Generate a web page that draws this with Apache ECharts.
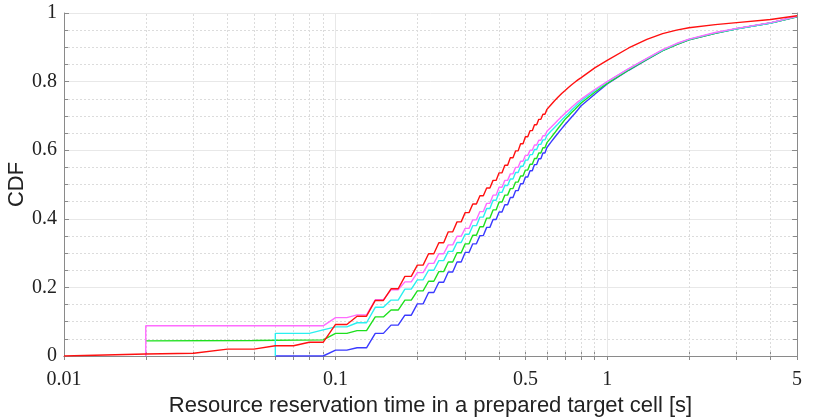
<!DOCTYPE html>
<html>
<head>
<meta charset="utf-8">
<script src="https://cdn.jsdelivr.net/npm/echarts@6/dist/echarts.min.js"></script>
<style>
  html,body{margin:0;padding:0;background:#fff;}
  #chart_wrap{width:830px;height:419px;}
</style>
</head>
<body>
<div id="chart_wrap"></div>
<script>
// time grid of the stair part: each level is flat for 10 ms, then rises
var stepTimes=[0.10,0.12,0.14,0.16,0.18,0.20,0.22,0.24,0.26,0.28,0.30,0.32,0.34,0.36,0.38,0.40,0.42,0.44,0.46,0.48,
  0.50,0.52,0.54,0.56,0.58,0.60,0.62,0.64,0.66,0.68,0.70,0.72,0.74,0.76,0.78,0.80];
var tailTimes=[0.9,1.0,1.2,1.4,1.6,1.8,2.0,2.5,3,4,5];

// points before 0.1 s
var redHead=[[0.01,0],[0.02,0.006],[0.03,0.008],[0.04,0.02],[0.05,0.02],[0.06,0.03],[0.07,0.03],[0.08,0.04],[0.09,0.04]];
var magentaHead=[[0.02,0],[0.02,0.088],[0.09,0.088]];
var cyanHead=[[0.06,0],[0.06,0.066],[0.08,0.066],[0.09,0.076]];
var greenHead=[[0.02,0.044],[0.05,0.045],[0.09,0.047]];
var blueHead=[[0.06,0],[0.09,0]];

var redLevels=[0.092,0.116,0.162,0.196,0.232,0.265,0.298,0.330,0.362,0.391,0.418,0.443,0.467,0.490,0.512,0.534,0.556,0.578,
  0.598,0.619,0.639,0.657,0.674,0.690,0.705,0.719,0.732,0.744,0.755,0.765,0.774,0.783,0.791,0.798,0.805,0.811];
var magentaLevels=[0.112,0.120,0.164,0.193,0.216,0.243,0.270,0.298,0.324,0.349,0.372,0.397,0.421,0.445,0.469,0.492,0.512,0.531,
  0.550,0.568,0.585,0.600,0.615,0.629,0.642,0.655,0.666,0.677,0.688,0.698,0.708,0.716,0.725,0.733,0.741,0.748];
var cyanLevels=[0.085,0.097,0.142,0.163,0.195,0.222,0.250,0.278,0.305,0.331,0.355,0.380,0.405,0.430,0.454,0.477,0.497,0.516,
  0.535,0.553,0.571,0.587,0.602,0.617,0.630,0.643,0.655,0.666,0.677,0.688,0.698,0.707,0.717,0.726,0.735,0.743];
var greenLevels=[0.066,0.074,0.114,0.134,0.163,0.190,0.218,0.246,0.274,0.301,0.327,0.352,0.377,0.402,0.426,0.449,0.469,0.488,
  0.507,0.525,0.542,0.559,0.576,0.592,0.607,0.622,0.636,0.650,0.664,0.677,0.690,0.700,0.710,0.719,0.728,0.737];
var blueLevels=[0.017,0.024,0.066,0.090,0.119,0.152,0.185,0.215,0.245,0.274,0.302,0.327,0.351,0.375,0.398,0.420,0.441,0.462,
  0.482,0.502,0.522,0.540,0.558,0.575,0.592,0.608,0.623,0.637,0.650,0.663,0.675,0.686,0.697,0.707,0.718,0.729];

var redTail=[0.840,0.862,0.898,0.923,0.940,0.950,0.957,0.966,0.972,0.981,0.992];
var magentaTail=[0.777,0.800,0.838,0.868,0.893,0.911,0.924,0.943,0.955,0.972,0.990];
var cyanTail=[0.774,0.799,0.837,0.867,0.892,0.910,0.923,0.942,0.954,0.971,0.990];
var greenTail=[0.769,0.795,0.834,0.865,0.890,0.908,0.922,0.941,0.954,0.971,0.989];
var blueTail=[0.763,0.793,0.833,0.864,0.890,0.908,0.922,0.941,0.954,0.971,0.989];

var xLabelValues=[0.01,0.1,0.5,1,5];
var xTickValues=[0.01,0.02,0.03,0.04,0.05,0.06,0.07,0.08,0.09,0.1,0.2,0.3,0.4,0.5,0.6,0.7,0.8,0.9,1,2,3,4,5];
var xMinorGrid=[0.02,0.03,0.04,0.05,0.06,0.07,0.08,0.09,0.2,0.3,0.4,0.5,0.6,0.7,0.8,0.9,2,3,4];
var xMajorGrid=[0.1,1];

var buildCurve=function(head,levels,tail){
  var pts=head.slice();
  levels.forEach(function(v,i){
    pts.push([stepTimes[i],v]);
    pts.push([+(stepTimes[i]+0.01).toFixed(2),v]);
  });
  tail.forEach(function(v,i){
    pts.push([tailTimes[i],v]);
  });
  return pts;
};

var objChart=echarts.init(document.getElementById('chart_wrap'));
var frameColor='#8a8a8a';
var serif='"Liberation Serif", "DejaVu Serif", serif';
var sans='"Liberation Sans", Arial, sans-serif';

var xAxisBase=function(pos,showLabel){
  return {
    type:'log',
    logBase:10,
    min:0.01,
    max:5,
    position:pos,
    axisLine:{show:true,lineStyle:{color:frameColor,width:1}},
    axisTick:{show:true,inside:true,length:4,customValues:xTickValues,lineStyle:{color:frameColor}},
    axisLabel:{
      show:showLabel,
      customValues:xLabelValues,
      fontFamily:serif,
      fontSize:20,
      color:'#222',
      margin:14,
      formatter:function(v){return String(+(+v).toPrecision(3));}
    },
    splitLine:{show:false},
    minorTick:{show:false},
    name:showLabel?'Resource reservation time in a prepared target cell [s]':'',
    nameLocation:'middle',
    nameGap:37,
    nameTextStyle:{fontFamily:sans,fontSize:22,color:'#222'}
  };
};

var yAxisBase=function(pos,showLabel){
  return {
    type:'value',
    min:0,
    max:1,
    interval:0.2,
    position:pos,
    axisLine:{show:true,lineStyle:{color:frameColor,width:1}},
    axisTick:{show:true,inside:true,length:5,lineStyle:{color:frameColor}},
    minorTick:{show:true,splitNumber:4,length:4,lineStyle:{color:frameColor}},
    axisLabel:{show:showLabel,fontFamily:serif,fontSize:20,color:'#222',margin:7},
    splitLine:{show:showLabel,lineStyle:{color:'#e8e8e8',width:1}},
    minorSplitLine:{show:showLabel,lineStyle:{color:'#dcdcdc',type:[2,2],width:1}},
    name:showLabel?'CDF':'',
    nameLocation:'middle',
    nameGap:36,
    nameMoveOverlap:false,
    nameTextStyle:{fontFamily:sans,fontSize:22,color:'#222'}
  };
};

var gridLines=[];
xMinorGrid.forEach(function(v){
  gridLines.push({xAxis:v,lineStyle:{color:'#dcdcdc',type:[2,2],width:1}});
});
xMajorGrid.forEach(function(v){
  gridLines.push({xAxis:v,lineStyle:{color:'#e8e8e8',type:'solid',width:1}});
});

var lineSeries=function(name,color,data){
  return {
    name:name,
    type:'line',
    showSymbol:false,
    symbol:'none',
    data:data,
    lineStyle:{color:color,width:1.4},
    itemStyle:{color:color},
    animation:false,
    z:5
  };
};

var option={
  animation:false,
  backgroundColor:'#fff',
  grid:{left:64,right:33,top:13,bottom:63,containLabel:false,outerBoundsMode:'none'},
  xAxis:[xAxisBase('bottom',true),xAxisBase('top',false)],
  yAxis:[yAxisBase('left',true),yAxisBase('right',false)],
  series:[
    {
      type:'line',
      data:[],
      silent:true,
      z:1,
      markLine:{
        silent:true,
        symbol:'none',
        label:{show:false},
        animation:false,
        data:gridLines
      }
    },
    lineSeries('blue','#3a3aff',buildCurve(blueHead,blueLevels,blueTail)),
    lineSeries('green','#1ee01e',buildCurve(greenHead,greenLevels,greenTail)),
    lineSeries('cyan','#2af0f0',buildCurve(cyanHead,cyanLevels,cyanTail)),
    lineSeries('magenta','#ff6cff',buildCurve(magentaHead,magentaLevels,magentaTail)),
    lineSeries('red','#ff1010',buildCurve(redHead,redLevels,redTail))
  ]
};

objChart.setOption(option);
</script>
</body>
</html>
